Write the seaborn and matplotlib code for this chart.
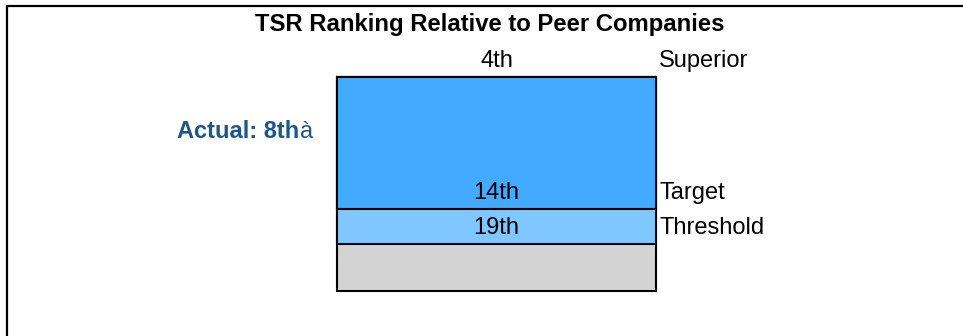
import matplotlib
matplotlib.use("Agg")
import matplotlib.pyplot as plt
from matplotlib.lines import Line2D
import seaborn as sns

# Tier boundaries, from the top of the bar downward
tier_names = ["Superior", "Target", "Threshold"]
tier_ranks = ["4th", "14th", "19th"]
rank_values = [4, 14, 19]
# Height of each band (Superior-to-Target, Target-to-Threshold, below Threshold)
band_heights = [132, 35, 47]
band_colors = ["#42ABFF", "#80C7FF", "#D3D3D3"]
actual_rank = 8
title = "TSR Ranking Relative to Peer Companies"

sns.set_style("white")
plt.rcParams["font.family"] = ["Liberation Sans", "DejaVu Sans"]

fig = plt.figure(figsize=(9.63, 3.36), dpi=100)

# Frame lines along the top and left edges
fig.add_artist(Line2D([7 / 963, 1.0], [1 - 6 / 336, 1 - 6 / 336], color="black", lw=1.6))
fig.add_artist(Line2D([7 / 963, 7 / 963], [0.0, 1 - 6 / 336], color="black", lw=1.6))

fig.text(490 / 963, 1 - 24 / 336, title, ha="center", va="center",
         fontsize=17.2, fontweight="bold", color="black")

ax = fig.add_axes([337 / 963, 45 / 336, 319 / 963, 214 / 336])

# Cumulative depth of each band's lower edge; draw the deepest first so
# shallower bands sit on top and their lower edges form the dividers
depths = []
running = 0
for h in band_heights:
    running += h
    depths.append(running)

for depth, color in reversed(list(zip(depths, band_colors))):
    sns.barplot(x=["TSR"], y=[depth], color=color, saturation=1, width=1,
                edgecolor="black", linewidth=1.5, ax=ax)

for p in ax.patches:
    p.set_clip_on(False)

total = depths[-1]
ax.set_ylim(total, 0)
ax.set_xlim(-0.5, 0.5)
ax.axis("off")

# Line positions of each tier: top of bar, then the band dividers
line_pos = [0] + depths[:-1]
for rank, name, y in zip(tier_ranks, tier_names, line_pos):
    ax.annotate(rank, xy=(0.5, y), xycoords=("axes fraction", "data"),
                xytext=(0, 16), textcoords="offset pixels",
                ha="center", va="center", fontsize=17, color="black")
    ax.annotate(name, xy=(1.0, y), xycoords=("axes fraction", "data"),
                xytext=(3, 16), textcoords="offset pixels",
                ha="left", va="center", fontsize=17, color="black")

# Actual rank sits on the linear scale of the top band
y_actual = (actual_rank - rank_values[0]) / (rank_values[1] - rank_values[0]) * band_heights[0]
ax.annotate("à", xy=(0.0, y_actual), xycoords=("axes fraction", "data"),
            xytext=(-24, -2), textcoords="offset pixels",
            ha="right", va="center", fontsize=17, color="#1B5788")
ax.annotate(f"Actual: {actual_rank}th", xy=(0.0, y_actual), xycoords=("axes fraction", "data"),
            xytext=(-38, -2), textcoords="offset pixels",
            ha="right", va="center", fontsize=17, fontweight="bold", color="#1B5788")

fig.savefig("out.png", dpi=100)
